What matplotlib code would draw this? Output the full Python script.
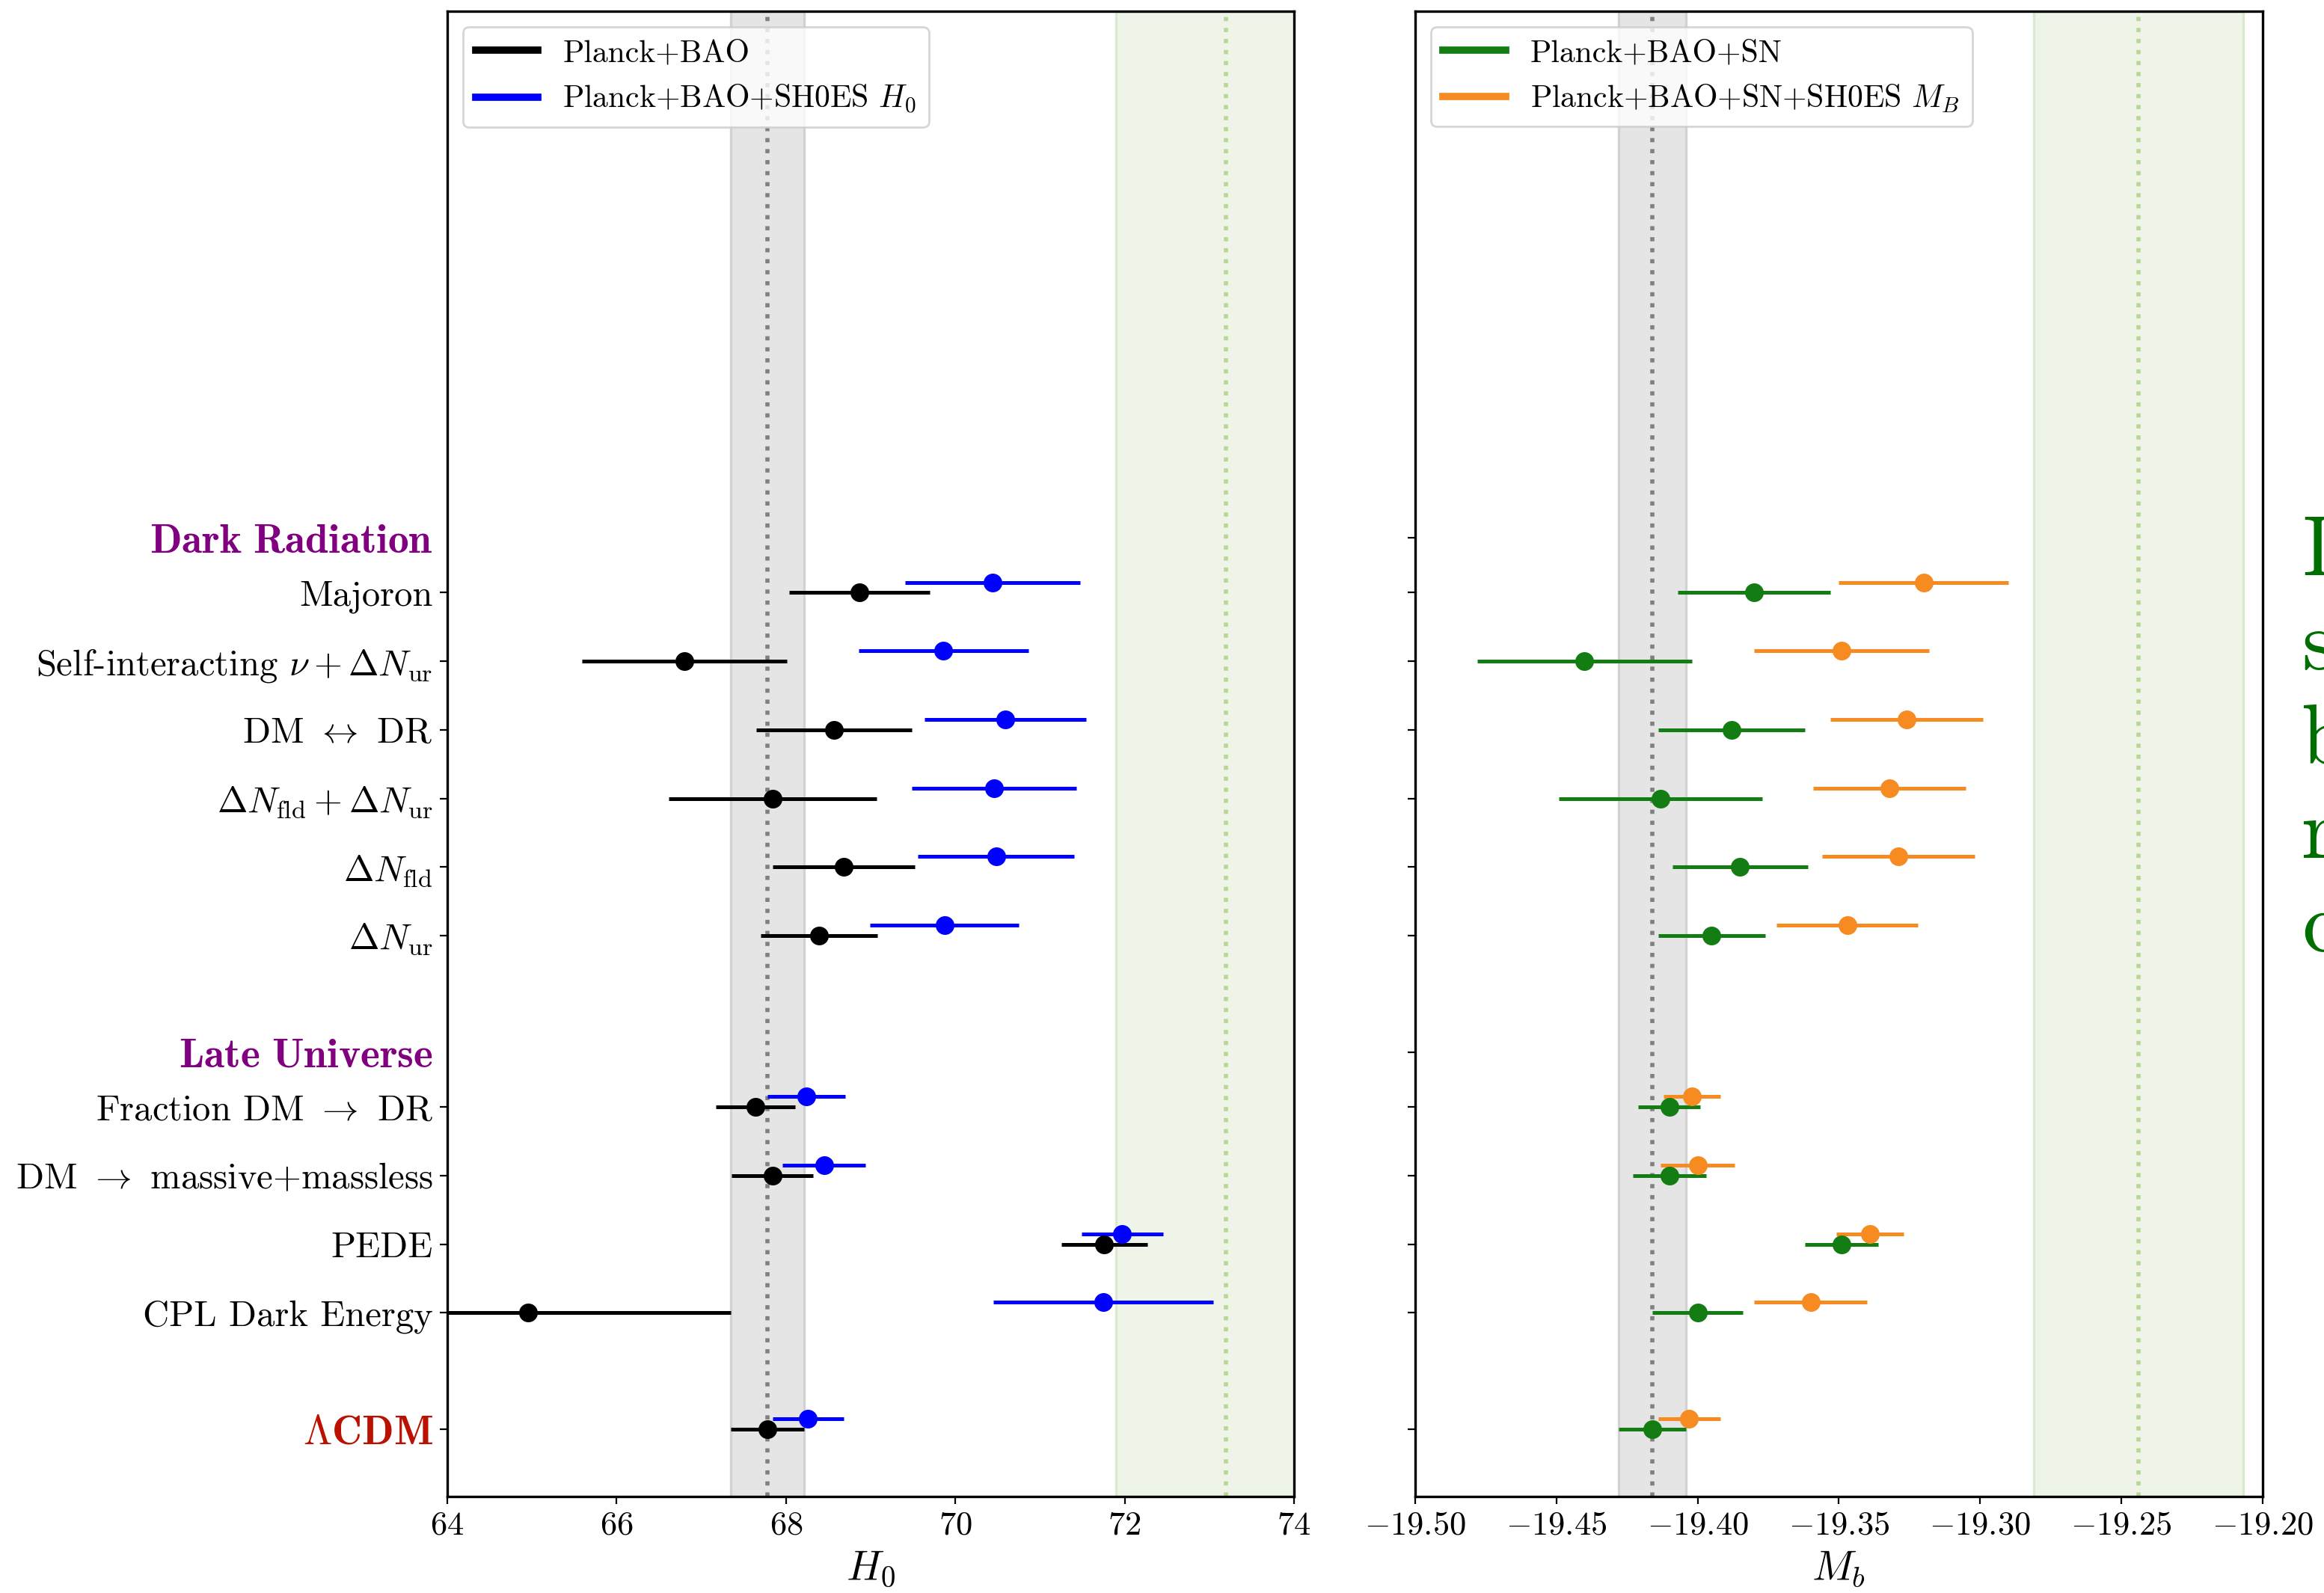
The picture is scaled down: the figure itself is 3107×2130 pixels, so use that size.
import matplotlib
matplotlib.use("Agg")
import matplotlib.pyplot as plt
from matplotlib.lines import Line2D

plt.rcParams['font.family'] = 'serif'
plt.rcParams['font.serif'] = ['cmr10']
plt.rcParams['mathtext.fontset'] = 'cm'
plt.rcParams['axes.formatter.use_mathtext'] = True

# modelos, de baixo para cima em cada grupo
lcdm_label = r'$\mathbf{\Lambda CDM}$'
late_models = ['CPL Dark Energy', 'PEDE', r'DM $\rightarrow$ massive+massless',
               r'Fraction DM $\rightarrow$ DR']
dr_models = [r'$\Delta N_{\mathrm{ur}}$', r'$\Delta N_{\mathrm{fld}}$',
             r'$\Delta N_{\mathrm{fld}}+\Delta N_{\mathrm{ur}}$', r'DM $\leftrightarrow$ DR',
             r'Self-interacting $\nu+\Delta N_{\mathrm{ur}}$', 'Majoron']
headers = [r'$\mathbf{Late\ Universe}$', r'$\mathbf{Dark\ Radiation}$']

# valores na ordem: LCDM, late (CPL..Fraction), DR (Nur..Majoron)
h0_bao = [67.78, 64.95, 71.76, 67.84, 67.64, 68.39, 68.68, 67.84, 68.57, 66.80, 68.87]
h0_bao_err = [0.43, 2.40, 0.51, 0.48, 0.47, 0.69, 0.84, 1.23, 0.92, 1.21, 0.83]
h0_shoes = [68.26, 71.75, 71.97, 68.45, 68.24, 69.87, 70.48, 70.46, 70.59, 69.86, 70.44]
h0_shoes_err = [0.42, 1.30, 0.48, 0.49, 0.46, 0.88, 0.92, 0.97, 0.95, 1.00, 1.03]

mb_sn = [-19.416, -19.400, -19.349, -19.410, -19.410, -19.395, -19.385, -19.413, -19.388, -19.440, -19.380]
mb_sn_err = [0.012, 0.016, 0.013, 0.013, 0.011, 0.019, 0.024, 0.036, 0.026, 0.038, 0.027]
mb_shoes = [-19.403, -19.360, -19.339, -19.400, -19.402, -19.347, -19.329, -19.332, -19.326, -19.349, -19.320]
mb_shoes_err = [0.011, 0.020, 0.012, 0.013, 0.010, 0.025, 0.027, 0.027, 0.027, 0.031, 0.030]

planck_h0, planck_h0_err = 67.78, 0.435
shoes_h0, shoes_h0_err = 73.2, 1.3
planck_mb, planck_mb_err = -19.416, 0.012
shoes_mb, shoes_mb_err = -19.244, 0.037

# posições verticais
gap, head_off, shift = 1.7, 0.8, 0.15
ypos = [0.0]
ticks, labels, tcolors = [0.0], [lcdm_label], ['#bb1100']
cursor = 0.0
for group, head in [(late_models, headers[0]), (dr_models, headers[1])]:
    cursor += gap
    for i, name in enumerate(group):
        y = cursor + i
        ypos.append(y)
        ticks.append(y)
        labels.append(name)
        tcolors.append('black')
    cursor = cursor + len(group) - 1 + head_off
    ticks.append(cursor)
    labels.append(head)
    tcolors.append('purple')

fig = plt.figure(figsize=(15.535, 10.65), dpi=200)
ax1 = fig.add_axes([0.1925, 0.0606, 0.3643, 0.9324])
ax2 = fig.add_axes([0.6089, 0.0606, 0.3647, 0.9324])

ypos_up = [y + shift for y in ypos]
green = '#137d13'
orange = '#f68b22'

# painel H0
ax1.axvspan(planck_h0 - planck_h0_err, planck_h0 + planck_h0_err, facecolor='#e5e5e5', edgecolor='#d2d2d2', lw=1.2, zorder=0)
ax1.axvline(planck_h0, color='gray', ls=':', lw=2, zorder=1)
ax1.axvspan(shoes_h0 - shoes_h0_err, shoes_h0 + shoes_h0_err, facecolor='#eef5e8', edgecolor='#dce9d2', lw=1.2, zorder=0)
ax1.axvline(shoes_h0, color='#b8d696', ls=':', lw=2, zorder=1)
ax1.errorbar(h0_bao, ypos, xerr=h0_bao_err, fmt='o', color='black', ms=8, lw=1.8, capsize=0, zorder=3)
ax1.errorbar(h0_shoes, ypos_up, xerr=h0_shoes_err, fmt='o', color='blue', ms=8, lw=1.8, capsize=0, zorder=3)
ax1.set_xlim(64, 74)
ax1.set_xticks([64, 66, 68, 70, 72, 74])
ax1.set_xticklabels([f'${v}$' for v in [64, 66, 68, 70, 72, 74]])
ax1.set_xlabel(r'$H_0$', fontsize=20)
ax1.legend(handles=[Line2D([], [], color='black', lw=3.5), Line2D([], [], color='blue', lw=3.5)],
           labels=['Planck+BAO', r'Planck+BAO+SH0ES $H_0$'], loc='upper left', fontsize=15)

# painel Mb
ax2.axvspan(planck_mb - planck_mb_err, planck_mb + planck_mb_err, facecolor='#e5e5e5', edgecolor='#d2d2d2', lw=1.2, zorder=0)
ax2.axvline(planck_mb, color='gray', ls=':', lw=2, zorder=1)
ax2.axvspan(shoes_mb - shoes_mb_err, shoes_mb + shoes_mb_err, facecolor='#eef5e8', edgecolor='#dce9d2', lw=1.2, zorder=0)
ax2.axvline(shoes_mb, color='#b8d696', ls=':', lw=2, zorder=1)
ax2.errorbar(mb_sn, ypos, xerr=mb_sn_err, fmt='o', color=green, ms=8, lw=1.8, capsize=0, zorder=3)
ax2.errorbar(mb_shoes, ypos_up, xerr=mb_shoes_err, fmt='o', color=orange, ms=8, lw=1.8, capsize=0, zorder=3)
ax2.set_xlim(-19.5, -19.2)
mb_ticks = [-19.50, -19.45, -19.40, -19.35, -19.30, -19.25, -19.20]
ax2.set_xticks(mb_ticks)
ax2.set_xticklabels([f'${v:.2f}$' for v in mb_ticks])
ax2.set_xlabel(r'$M_b$', fontsize=20)
ax2.legend(handles=[Line2D([], [], color=green, lw=3.5), Line2D([], [], color=orange, lw=3.5)],
           labels=['Planck+BAO+SN', r'Planck+BAO+SN+SH0ES $M_B$'], loc='upper left', fontsize=15)

for ax in (ax1, ax2):
    ax.set_ylim(-0.98, 20.68)
    ax.set_yticks(ticks)
    ax.tick_params(axis='x', labelsize=16)
    for s in ax.spines.values():
        s.set_linewidth(1.2)

ax1.set_yticklabels(labels, fontsize=17.5)
for lab, c, tk in zip(ax1.get_yticklabels(), tcolors, ax1.yaxis.get_major_ticks()):
    lab.set_color(c)
    if c != 'black':
        lab.set_fontsize(20)
    if c == 'purple':
        tk.tick1line.set_visible(False)
    else:
        tk.tick1line.set_color(c)
ax2.set_yticklabels([])

fig.text(0.9905, 0.676, 'D\ns\nb\nr\nc', color='#006e00', fontsize=41, va='top', ha='left', linespacing=1.32)

fig.savefig('out.png', dpi=200)
